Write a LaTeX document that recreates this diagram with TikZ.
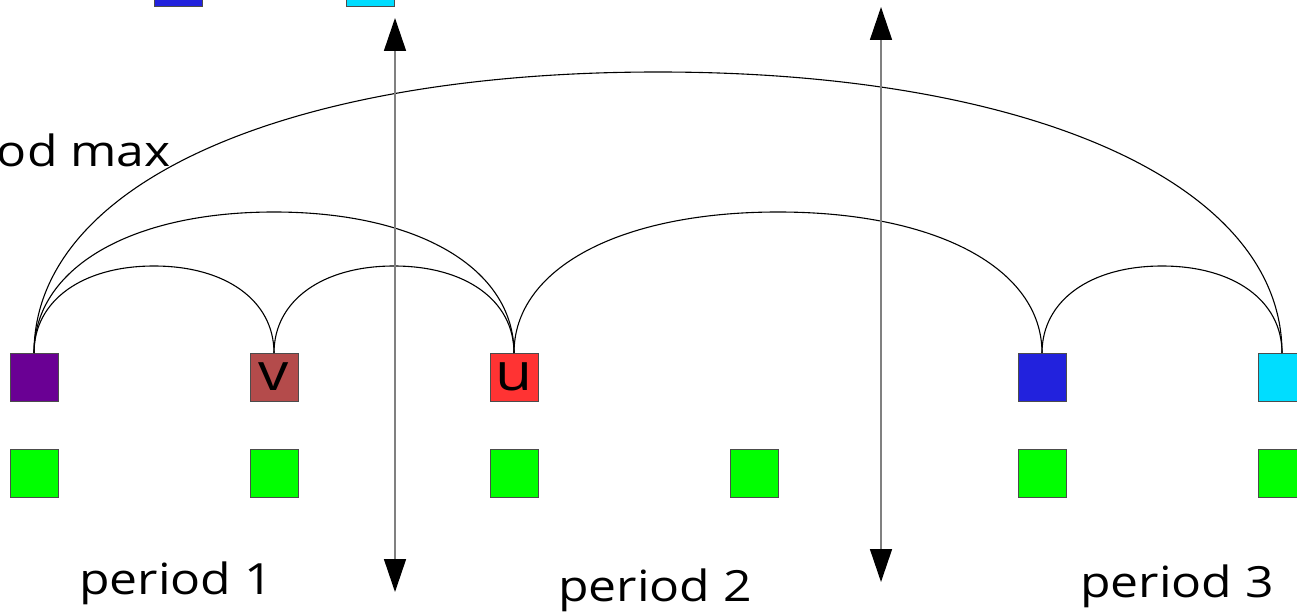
\documentclass[tikz,border=0pt]{standalone}
\usepackage{fontspec}
\newfontfamily\lblfont[FakeStretch=1.16]{Open Sans}
\usetikzlibrary{arrows.meta,calc}
\definecolor{purpq}{RGB}{106,0,148}
\definecolor{brownq}{RGB}{180,75,75}
\definecolor{redq}{RGB}{255,51,51}
\definecolor{blueq}{RGB}{34,34,221}
\definecolor{cyanq}{RGB}{0,221,255}
\definecolor{greenq}{RGB}{0,255,0}
\tikzset{
  sq/.style={draw=black!70, line width=1pt, minimum size=48pt, inner sep=0pt, outer sep=0pt},
  arcline/.style={line width=1.1pt, black},
  dimarrow/.style={draw=gray, line width=1.6pt,
    {Triangle[length=33pt,width=22pt,color=black,fill=black]}-{Triangle[length=33pt,width=22pt,color=black,fill=black]}},
  lbl/.style={font=\lblfont\fontsize{43}{50}\selectfont, inner sep=0pt, anchor=base west},
  letter/.style={font=\lblfont\fontsize{52}{60}\selectfont},
}
\newcommand\myarc[4]{%
  \draw[arcline] (#1.north) .. controls +(0,{0.6*#4}) and +({-0.6*#3},0) ..
    ($(#1.north)!0.5!(#2.north)+(0,#4)$) .. controls +({0.6*#3},0) and +(0,{0.6*#4}) .. (#2.north);}
\begin{document}
\begin{tikzpicture}[x=1pt,y=1pt]
\useasboundingbox (0,0) rectangle (1297,614);
\clip (0,0) rectangle (1297,614);
% partial squares at top
\node[sq, fill=blueq] (tb) at (178,631) {};
\node[sq, fill=cyanq] (tc) at (370,631) {};
% upper row
\node[sq, fill=purpq] (p) at (34,237) {};
\node[sq, fill=brownq, letter] (v) at (274,237) {v};
\node[sq, fill=redq, letter] (u) at (514,237) {u};
\node[sq, fill=blueq] (b) at (1042,237) {};
\node[sq, fill=cyanq] (c) at (1282,237) {};
% lower row
\node[sq, fill=greenq] (g1) at (34,141) {};
\node[sq, fill=greenq] (g2) at (274,141) {};
\node[sq, fill=greenq] (g3) at (514,141) {};
\node[sq, fill=greenq] (g4) at (754,141) {};
\node[sq, fill=greenq] (g5) at (1042,141) {};
\node[sq, fill=greenq] (g6) at (1282,141) {};
% arcs
\myarc{p}{v}{120}{87}
\myarc{p}{u}{240}{141}
\myarc{p}{c}{624}{281}
\myarc{v}{u}{120}{87}
\myarc{u}{b}{264}{141}
\myarc{b}{c}{120}{87}
% period boundaries
\coordinate (a1t) at (395,596);
\coordinate (a1b) at (395,22);
\coordinate (a2t) at (881,607);
\coordinate (a2b) at (881,32);
\draw[dimarrow] (a1t) -- (a1b);
\draw[dimarrow] (a2t) -- (a2b);
% labels
\node[lbl] (t1) at (79,20) {period 1};
\node[lbl] (t2) at (558,13) {period 2};
\node[lbl] (t3) at (1080,17) {period 3};
\node[lbl, anchor=base east] (tm) at (171,447) {od max};
\end{tikzpicture}
\end{document}
